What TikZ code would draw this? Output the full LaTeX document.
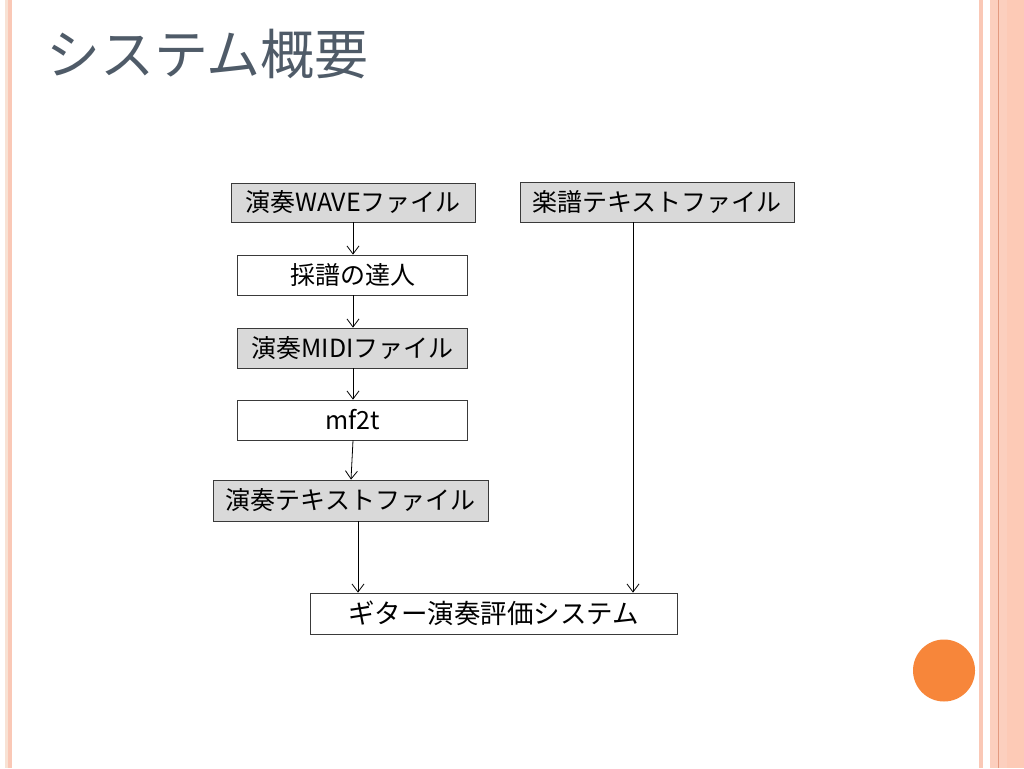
\documentclass[tikz,border=0pt]{standalone}
\usepackage{fontspec}
\setmainfont{Noto Sans CJK JP}
\usetikzlibrary{arrows.meta}
\definecolor{titlec}{HTML}{4F5B68}
\definecolor{boxgray}{HTML}{D9D9D9}
\definecolor{edgec}{HTML}{3A3A3A}
\definecolor{stripe}{HTML}{FAC8B6}
\definecolor{panelA}{HTML}{FCCFBE}
\definecolor{panelB}{HTML}{FDCAB6}
\definecolor{panelline}{HTML}{E39A80}
\definecolor{leftA}{HTML}{F8E2D4}
\definecolor{orangec}{HTML}{F7863A}
\tikzset{
  box/.style={draw=edgec, line width=0.8pt, fill=white, inner sep=0pt,
    font=\fontsize{25}{28}\selectfont, text=black},
  graybox/.style={box, fill=boxgray},
  arr/.style={draw=black, line width=0.8pt, -{Straight Barb[length=8pt,width=12pt]}}
}
\begin{document}
\begin{tikzpicture}[x=1pt,y=-1pt]
\useasboundingbox (0,0) rectangle (1024,768);
\fill[white] (0,0) rectangle (1024,768);
% left border
\fill[leftA] (5,0) rectangle (8,768);
\fill[stripe] (8,0) rectangle (12,768);
% right border
\fill[stripe] (979,0) rectangle (983,768);
\fill[panelA] (990,0) rectangle (1007,768);
\fill[panelB] (1007,0) rectangle (1024,768);
\draw[panelline, line width=1pt] (998.5,0) -- (998.5,768);
% orange circle
\fill[orangec] (944,670.5) circle[radius=31];
% title
\node[anchor=west, text=titlec, font=\fontsize{54}{62}\selectfont, inner sep=0pt] (title) at (46,54) {システム概要};
% boxes
\node[graybox, minimum width=244pt, minimum height=39pt] (wave) at (353,202.5) {演奏WAVEファイル};
\node[box, minimum width=230pt, minimum height=40pt] (saifu) at (352.5,275) {採譜の達人};
\node[graybox, minimum width=230pt, minimum height=40pt] (midi) at (352.5,348) {演奏MIDIファイル};
\node[box, minimum width=230pt, minimum height=40pt] (mf) at (352.5,420) {mf2t};
\node[graybox, minimum width=275pt, minimum height=41pt] (etext) at (350.5,500.5) {演奏テキストファイル};
\node[graybox, minimum width=274pt, minimum height=40pt] (gakufu) at (657,202) {楽譜テキストファイル};
\node[box, minimum width=367pt, minimum height=41pt, font=\fontsize{26.5}{29}\selectfont] (sys) at (493.5,613.5) {ギター演奏評価システム};
% connectors
\coordinate (c1) at (358,0);
\coordinate (c2) at (633,0);
\coordinate (c3) at (353,0);
\draw[arr] (wave.south -| c3) -- (saifu.north -| c3);
\draw[arr] (saifu.south -| c3) -- (midi.north -| c3);
\draw[arr] (midi.south -| c3) -- (mf.north -| c3);
\draw[arr] (mf.south -| c3) -- (etext.north -| {(351,0)});
\draw[arr] (etext.south -| c1) -- (sys.north -| c1);
\draw[arr] (gakufu.south -| c2) -- (sys.north -| c2);
\end{tikzpicture}
\end{document}
